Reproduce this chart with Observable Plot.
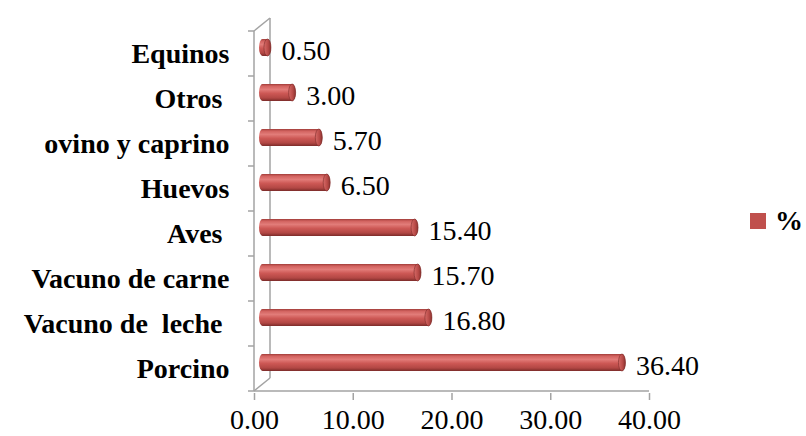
<!DOCTYPE html>
<html>
<head>
<meta charset="utf-8">
<script src="https://cdn.jsdelivr.net/npm/d3@7"></script>
<script src="https://cdn.jsdelivr.net/npm/@observablehq/plot@0.6"></script>
<style>
  html, body { margin: 0; padding: 0; background: #fff; }
  #wrap { position: relative; width: 806px; height: 436px; }
  #wrap svg text { white-space: pre; }
  .legend { position: absolute; left: 750px; top: 205px; display: flex; align-items: center;
            font-family: "Liberation Serif", "Times New Roman", serif; font-weight: bold; font-size: 28px; }
  .legend .sw { width: 16px; height: 16px; background: #c0504d; margin-right: 9px; }
</style>
</head>
<body>
<div id="wrap"></div>
<script>
// Share of production by livestock type (%)
const categories = ["Equinos", "Otros ", "ovino y caprino", "Huevos", "Aves ", "Vacuno de carne", "Vacuno de  leche ", "Porcino"];
const values = [0.5, 3.0, 5.7, 6.5, 15.4, 15.7, 16.8, 36.4];
const xTicks = [0, 10, 20, 30, 40];
const seriesName = "%";

const rows = categories.map((c, i) => ({cat: c, v: values[i]}));
const fmt = d3.format(".2f");
const serif = "'Liberation Serif', 'Times New Roman', serif";
const grey = "#a3a3a3";

// depth offset of the 3-D cylinders relative to the front plane
const depthX = 8.5, depthY = -6;
const capR = 3.5;

const plot = Plot.plot({
  width: 806,
  height: 436,
  marginLeft: 254,
  marginRight: 157,
  marginTop: 28,
  marginBottom: 43,
  style: {fontFamily: serif, fontSize: "28px", color: "black", background: "white"},
  x: {domain: [0, 40]},
  y: {domain: categories, padding: 0},
  marks: [
    Plot.axisX({ticks: xTicks, tickFormat: fmt, tickSize: 7, tickPadding: 9,
                stroke: grey, strokeWidth: 1.5, fill: "black", fontSize: 28, label: null}),
    Plot.axisY({tickSize: 0, tickPadding: 25, fontWeight: "bold", fontSize: 28, fill: "black", label: null}),
    // cylinder bodies
    Plot.barX(rows, {y: "cat", x1: 0, x2: "v", insetTop: 14, insetBottom: 14,
                     insetLeft: -capR, insetRight: -capR, rx: capR, ry: 9,
                     dx: depthX, dy: depthY, fill: "url(#cyl)"}),
    // cylinder end caps
    Plot.barX(rows, {y: "cat", x1: "v", x2: "v", insetTop: 14, insetBottom: 14,
                     insetLeft: -capR, insetRight: -capR, rx: capR, ry: 9,
                     dx: depthX, dy: depthY, fill: "url(#cap)", stroke: "#7a2a28", strokeWidth: 0.6}),
    // value labels
    Plot.text(rows, {y: "cat", x: "v", text: d => fmt(d.v), dx: 22, dy: -3,
                     textAnchor: "start", fontSize: 28, fill: "black"})
  ]
});

// gradients for the cylinder shading
const svg = d3.select(plot);
const defs = svg.insert("defs", ":first-child");
const g1 = defs.append("linearGradient").attr("id", "cyl").attr("x1", 0).attr("y1", 0).attr("x2", 0).attr("y2", 1);
[[0, "#a03c39"], [0.12, "#d2625f"], [0.32, "#e27c79"], [0.55, "#cd5855"], [0.82, "#b24744"], [1, "#7c2b29"]]
  .forEach(([o, c]) => g1.append("stop").attr("offset", o).attr("stop-color", c));
const g2 = defs.append("linearGradient").attr("id", "cap").attr("x1", 0).attr("y1", 0).attr("x2", 1).attr("y2", 0);
[[0, "#d66a67"], [0.6, "#b84a47"], [1, "#8a3330"]]
  .forEach(([o, c]) => g2.append("stop").attr("offset", o).attr("stop-color", c));

// 3-D wall and floor outline, positioned with the plot's scales
const sx = plot.scale("x"), sy = plot.scale("y");
const x0 = sx.apply(0), x1 = sx.apply(40);
const step = sy.step;
const yTop = sy.apply(categories[0]);
const yBot = yTop + step * categories.length;
const wx = 16, wy = -13;
const frame = svg.insert("g", "defs + *").attr("stroke", grey).attr("stroke-width", 1.5).attr("fill", "none");
const seg = (a, b, c, d) => frame.append("line").attr("x1", a).attr("y1", b).attr("x2", c).attr("y2", d);
seg(x0, yTop, x0, yBot);
seg(x0 + wx, yTop + wy, x0 + wx, yBot + wy);
seg(x0, yTop, x0 + wx, yTop + wy);
seg(x0, yBot, x0 + wx, yBot + wy);
seg(x0, yBot, x1, yBot);
for (let i = 0; i <= categories.length; i++) seg(x0 - 6, yTop + i * step, x0, yTop + i * step);

const wrap = document.getElementById("wrap");
wrap.appendChild(plot);
const legend = document.createElement("div");
legend.className = "legend";
legend.innerHTML = `<span class="sw"></span><span>${seriesName}</span>`;
wrap.appendChild(legend);
</script>
</body>
</html>
